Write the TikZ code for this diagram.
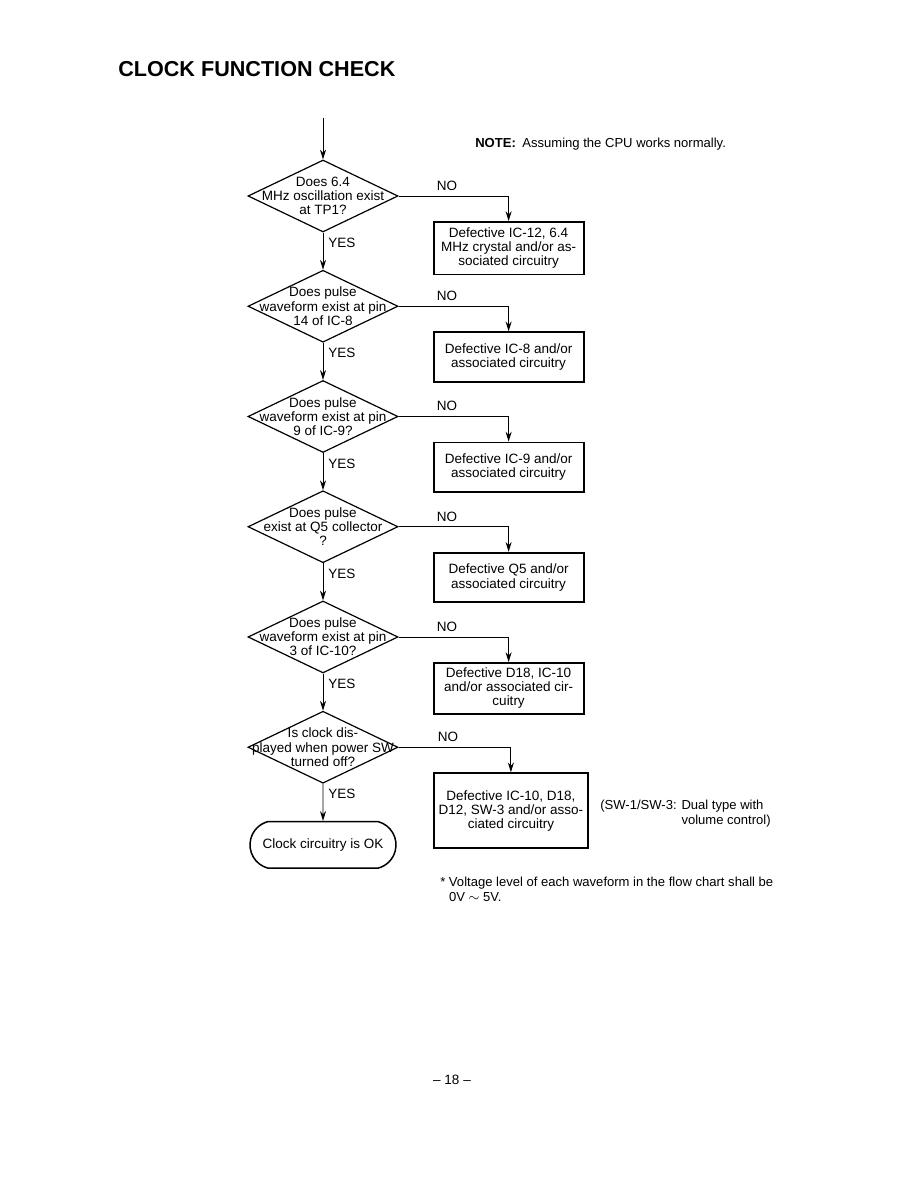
\documentclass[tikz,border=0pt]{standalone}
\usepackage{fontspec}
\setmainfont{Liberation Sans}
\usepackage{xcolor}
\usepackage{tikz}
\usetikzlibrary{shapes.geometric, shapes.misc, arrows, arrows.meta, positioning}

\begin{document}
\begin{tikzpicture}[
        x=0.6667pt, y=0.6667pt,
        font=\fontsize{9}{9.4}\selectfont,
        decision/.style={diamond, draw=black, line width=0.8pt, minimum width=100pt, minimum height=48pt, inner sep=0pt},
        ask/.style={label={[align=center]center:#1}},
        fault/.style={rectangle, minimum width=100pt, minimum height=33pt, text centered, align=center, draw=black, line width=1.3pt},
        terminal/.style={rounded rectangle, rounded rectangle arc length=150, minimum width=104pt, minimum height=31pt, draw=black, line width=1pt},
        note/.style={inner sep=0pt, align=left, font=\fontsize{8.7}{10}\selectfont},
        arrow/.style={line width=0.6pt,->,>={Stealth[length=6.5pt,width=4pt]}}
    ]
    \useasboundingbox (0,0) rectangle (918,-1188);

    \node (title) [anchor=base west, inner sep=0pt, font=\fontsize{14.4}{17}\selectfont\bfseries] at (118,-77) {CLOCK FUNCTION CHECK};
    \node (cpu) [note, anchor=base west] at (475,-148) {\textbf{NOTE:}\enspace Assuming the CPU works normally.};

    \coordinate (start) at (323,-118);
    \node (q1) [decision, ask={Does 6.4\\MHz oscillation exist\\at TP1?}] at (323,-196) {};
    \node (q2) [decision, below=24.7pt of q1, ask={Does pulse\\waveform exist at pin\\14 of IC-8}] {};
    \node (q3) [decision, below=24.7pt of q2, ask={Does pulse\\waveform exist at pin\\9 of IC-9?}] {};
    \node (q4) [decision, below=24.7pt of q3, ask={Does pulse\\exist at Q5 collector\\?}] {};
    \node (q5) [decision, below=24.7pt of q4, ask={Does pulse\\waveform exist at pin\\3 of IC-10?}] {};
    \node (q6) [decision, below=24.7pt of q5, ask={Is clock dis-\\played when power SW\\turned off?}] {};
    \node (ok) [terminal, below=24.7pt of q6] {Clock circuitry is OK};

    \node (d1) [fault, below right=16.7pt and 22.7pt of q1.east, minimum height=35pt] {Defective IC-12, 6.4\\MHz crystal and/or as-\\sociated circuitry};
    \node (d2) [fault, below right=16.7pt and 22.7pt of q2.east] {Defective IC-8 and/or\\associated circuitry};
    \node (d3) [fault, below right=16.7pt and 22.7pt of q3.east] {Defective IC-9 and/or\\associated circuitry};
    \node (d4) [fault, below right=16.7pt and 22.7pt of q4.east] {Defective Q5 and/or\\associated circuitry};
    \node (d5) [fault, below right=16.7pt and 22.7pt of q5.east] {Defective D18, IC-10\\and/or associated cir-\\cuitry};
    \node (d6) [fault, below right=16.7pt and 22.7pt of q6.east, minimum height=50pt] {Defective IC-10, D18,\\D12, SW-3 and/or asso-\\ciated circuitry};

    \draw [arrow] (start) -- (q1);
    \draw [arrow] (q1) -- node[right, pos=0.28] {YES} (q2);
    \draw [arrow] (q2) -- node[right, pos=0.28] {YES} (q3);
    \draw [arrow] (q3) -- node[right, pos=0.28] {YES} (q4);
    \draw [arrow] (q4) -- node[right, pos=0.28] {YES} (q5);
    \draw [arrow] (q5) -- node[right, pos=0.28] {YES} (q6);
    \draw [arrow] (q6) -- node[right, pos=0.28] {YES} (ok);

    \draw [arrow] (q1.east) -| node[above, pos=0.22] {NO} (d1.north);
    \draw [arrow] (q2.east) -| node[above, pos=0.22] {NO} (d2.north);
    \draw [arrow] (q3.east) -| node[above, pos=0.22] {NO} (d3.north);
    \draw [arrow] (q4.east) -| node[above, pos=0.22] {NO} (d4.north);
    \draw [arrow] (q5.east) -| node[above, pos=0.22] {NO} (d5.north);
    \draw [arrow] (q6.east) -| node[above, pos=0.22] {NO} (d6.north);

    \node (sw) [note, anchor=north west] at (600,-800) {(SW-1/SW-3: Dual type with\\\phantom{(SW-1/SW-3: }volume control)};
    \node (volt) [note, anchor=north west] at (440,-877) {* Voltage level of each waveform in the flow chart shall be\\\phantom{* }0V $\sim$ 5V.};
    \node (page) at (452,-1080) {-- 18 --};

    \end{tikzpicture}
\end{document}
